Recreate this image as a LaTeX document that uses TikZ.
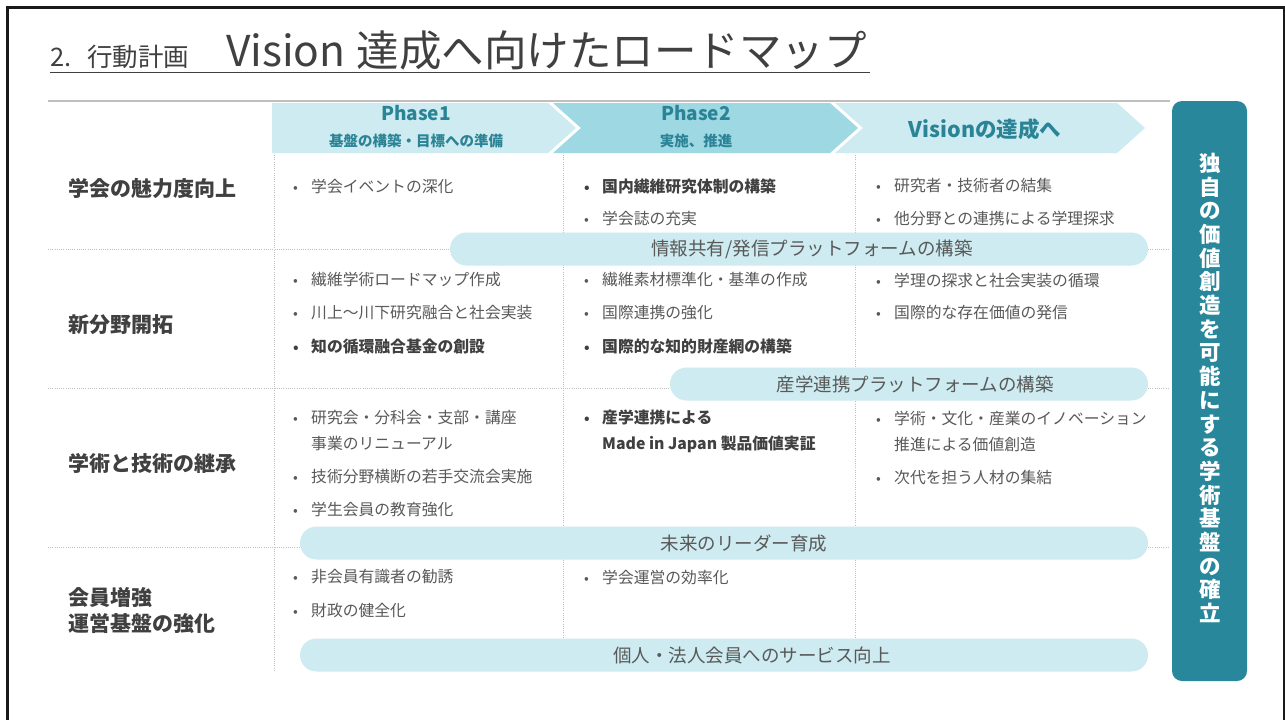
\documentclass[tikz,border=0pt]{standalone}
\usepackage{fontspec}
\setmainfont{Noto Sans CJK JP}
\definecolor{txt}{HTML}{595959}
\definecolor{lblc}{HTML}{404040}
\definecolor{tealbox}{HTML}{28879A}
\definecolor{phasetxt}{HTML}{2A8496}
\definecolor{pillc}{HTML}{CDEBF0}
\definecolor{phtwo}{HTML}{9DD8E3}
\definecolor{gridc}{HTML}{BFBFBF}
\newcommand\fs[2]{\fontsize{#1}{#2}\selectfont}
\newcommand\bul{\makebox[18pt][l]{\fs{14}{14}•}}
\newcommand\ind{\hspace*{18pt}}
\begin{document}
\begin{tikzpicture}[x=1pt,y=-1pt,
  item/.style={anchor=west, inner sep=0, font=\fs{15.8}{26}, text=txt, align=left},
  bitem/.style={item, font=\bfseries\fs{15.8}{26}, text=lblc},
  rowlbl/.style={anchor=west, inner sep=0, font=\bfseries\fs{21}{26}, text=lblc, align=left},
  pill/.style={fill=pillc, rounded corners=16.5pt, minimum height=33pt, inner sep=0},
  pilltxt/.style={inner sep=0, font=\fs{18.5}{18.5}, text=txt},
  gridline/.style={gridc, line width=0.8pt, dash pattern=on 1pt off 1.2pt},
  phtitle/.style={inner sep=0, font=\bfseries\fs{19}{19}, text=phasetxt},
  phsub/.style={inner sep=0, font=\bfseries\fs{14.5}{14.5}, text=phasetxt}]
\useasboundingbox (0,0) rectangle (1285,720);
\fill[white] (0,0) rectangle (1285,720);
% frame
\draw[line width=3pt, black!90] (7.5,720) -- (7.5,7.5) -- (1285,7.5);
\draw[line width=1.5pt, black!90] (1284,7.5) -- (1284,720);
% title
\node[anchor=base west, inner sep=0, font=\fs{25.5}{25.5}, text=lblc] (subttl) at (50,66) {2.\hspace{16pt}行動計画};
\node[anchor=base west, inner sep=0, font=\fs{42.5}{42.5}, text=lblc] (ttl) at (226,66) {Vision\hspace{11pt}達成へ向けたロードマップ};
\draw[lblc, line width=1.3pt] (50,72.5) -- (870,72.5);
% header line
\draw[gridc, line width=1.5pt] (48,101) -- (1170,101);
% chevrons
\fill[pillc] (272,103) -- (548,103) -- (576,128) -- (548,153) -- (272,153) -- cycle;
\fill[phtwo] (553,103) -- (830,103) -- (858,128) -- (830,153) -- (553,153) -- (581,128) -- cycle;
\fill[pillc] (835,103) -- (1117,103) -- (1145,128) -- (1117,153) -- (835,153) -- (863,128) -- cycle;
\node[phtitle] (p1) at (416,113) {Phase1};
\node[phsub] (p1s) at (416,141) {基盤の構築・目標への準備};
\node[phtitle] (p2) at (696,113) {Phase2};
\node[phsub] (p2s) at (696,141) {実施、推進};
\node[phtitle, font=\bfseries\fs{21.5}{21.5}] (p3) at (985,129) {Visionの達成へ};
% grid
\draw[gridline] (274,155) -- (274,670);
\draw[gridline] (563,155) -- (563,670);
\draw[gridline] (855,155) -- (855,670);
\draw[gridline] (48,249) -- (1170,249);
\draw[gridline] (48,388) -- (1170,388);
\draw[gridline] (48,547) -- (1170,547);
% pills
\node[pill, minimum width=698pt] (pill1) at (799,249) {};
\node[pill, minimum width=478pt] (pill2) at (909,384) {};
\node[pill, minimum width=848pt] (pill3) at (724,543) {};
\node[pill, minimum width=848pt] (pill4) at (724,655) {};
\node[pilltxt] (pill1t) at (812,249) {情報共有/発信プラットフォームの構築};
\node[pilltxt] (pill2t) at (915,384) {産学連携プラットフォームの構築};
\node[pilltxt] (pill3t) at (744,543) {未来のリーダー育成};
\node[pilltxt] (pill4t) at (752,655) {個人・法人会員へのサービス向上};
% row labels
\node[rowlbl] (r1) at (68,188) {学会の魅力度向上};
\node[rowlbl] (r2) at (68,325) {新分野開拓};
\node[rowlbl] (r3) at (68,463) {学術と技術の継承};
\node[rowlbl] (r4) at (68,611) {会員増強\\運営基盤の強化};
% row 1
\node[item] (a11) at (293,186) {\bul 学会イベントの深化};
\node[bitem] (b11) at (584,186) {\bul 国内繊維研究体制の構築};
\node[item] (b12) at (584,218) {\bul 学会誌の充実};
\node[item] (c11) at (876,186) {\bul 研究者・技術者の結集};
\node[item] (c12) at (876,218) {\bul 他分野との連携による学理探求};
% row 2
\node[item] (a21) at (293,280) {\bul 繊維学術ロードマップ作成};
\node[item] (a22) at (293,313) {\bul 川上～川下研究融合と社会実装};
\node[bitem] (a23) at (293,346) {\bul 知の循環融合基金の創設};
\node[item] (b21) at (584,280) {\bul 繊維素材標準化・基準の作成};
\node[item] (b22) at (584,313) {\bul 国際連携の強化};
\node[bitem] (b23) at (584,346) {\bul 国際的な知的財産網の構築};
\node[item] (c21) at (876,280) {\bul 学理の探求と社会実装の循環};
\node[item] (c22) at (876,313) {\bul 国際的な存在価値の発信};
% row 3
\node[item] (a31) at (293,431) {\bul 研究会・分科会・支部・講座\\\ind 事業のリニューアル};
\node[item] (a32) at (293,477) {\bul 技術分野横断の若手交流会実施};
\node[item] (a33) at (293,510) {\bul 学生会員の教育強化};
\node[bitem] (b31) at (584,431) {\bul 産学連携による\\\ind Made in Japan 製品価値実証};
\node[item] (c31) at (876,431) {\bul 学術・文化・産業のイノベーション\\\ind 推進による価値創造};
\node[item] (c32) at (876,477) {\bul 次代を担う人材の集結};
% row 4
\node[item] (a41) at (293,577) {\bul 非会員有識者の勧誘};
\node[item] (a42) at (293,610) {\bul 財政の健全化};
\node[item] (b41) at (584,577) {\bul 学会運営の効率化};
% right box
\node[fill=tealbox, rounded corners=10pt, minimum width=75pt, minimum height=580pt, inner sep=0] (vbox) at (1209.5,391) {};
\node[inner sep=0, align=center, text=white, font=\bfseries\fs{21.5}{23.7}] (vtext) at (1210,388)
  {独\\自\\の\\価\\値\\創\\造\\を\\可\\能\\に\\す\\る\\学\\術\\基\\盤\\の\\確\\立};
\end{tikzpicture}
\end{document}
